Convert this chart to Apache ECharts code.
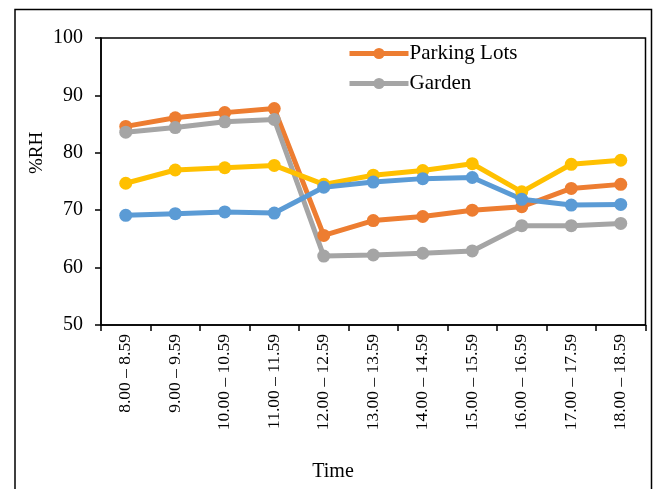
<!DOCTYPE html>
<html>
<head>
<meta charset="utf-8">
<script src="https://cdn.jsdelivr.net/npm/echarts@6/dist/echarts.min.js"></script>
<style>
html,body{margin:0;padding:0;background:#fff;}
#c{width:653px;height:489px;}
</style>
</head>
<body>
<div id="c"></div>
<script>
var categories = ["8.00 – 8.59","9.00 – 9.59","10.00 – 10.59","11.00 – 11.59","12.00 – 12.59","13.00 – 13.59","14.00 – 14.59","15.00 – 15.59","16.00 – 16.59","17.00 – 17.59","18.00 – 18.59"];
var parkingLots = [84.6, 86.1, 87.0, 87.7, 65.6, 68.2, 68.9, 70.0, 70.6, 73.8, 74.5];
var garden = [83.6, 84.4, 85.4, 85.8, 62.0, 62.2, 62.5, 62.9, 67.3, 67.3, 67.7];
var series3 = [74.7, 77.0, 77.4, 77.8, 74.5, 76.1, 76.9, 78.1, 73.2, 78.0, 78.7];
var series4 = [69.1, 69.4, 69.7, 69.5, 74.0, 74.9, 75.5, 75.7, 71.9, 70.9, 71.0];
var yTicks = [50, 60, 70, 80, 90, 100];
var xTitle = 'Time';
var yTitle = '%RH';

var font = "'Liberation Serif', 'Times New Roman', serif";
function mk(name, data, color) {
  return {
    name: name, type: 'line', data: data,
    symbol: 'circle', symbolSize: 13,
    lineStyle: { width: 5, color: color },
    itemStyle: { color: color },
    emphasis: { disabled: true },
    animation: false
  };
}
var chart = echarts.init(document.getElementById('c'));
chart.setOption({
  animation: false,
  textStyle: { fontFamily: font },
  graphic: [
    { type: 'rect', shape: { x: 15, y: 9.5, width: 636.5, height: 490 },
      style: { fill: 'none', stroke: '#000', lineWidth: 1.5 }, z: -1 },
    { type: 'text', x: 37, y: 153, rotation: Math.PI / 2,
      style: { text: yTitle, font: '19px ' + font, fill: '#000', align: 'center', verticalAlign: 'middle' } },
    { type: 'text', x: 333, y: 472,
      style: { text: xTitle, font: '20px ' + font, fill: '#000', align: 'center', verticalAlign: 'middle' } }
  ],
  grid: { left: 101, top: 38, width: 544.5, height: 287, show: true, borderColor: '#000', borderWidth: 1.5, backgroundColor: 'transparent' },
  legend: {
    data: ['Parking Lots', 'Garden'],
    orient: 'vertical', left: 347, top: 43, itemWidth: 59, itemHeight: 14, itemGap: 9, padding: 0,
    lineStyle: { width: 5 },
    textStyle: { fontFamily: font, fontSize: 21, color: '#000', padding: [0, 0, 0, -4] }
  },
  xAxis: {
    type: 'category', data: categories, boundaryGap: true,
    axisLine: { lineStyle: { color: '#000', width: 1.5 } },
    axisTick: { show: true, interval: 0, inside: false, length: 6, lineStyle: { color: '#000', width: 1.5 } },
    axisLabel: { interval: 0, rotate: 90, fontFamily: font, fontSize: 17.5, color: '#000', margin: 9 }
  },
  yAxis: {
    type: 'value', min: yTicks[0], max: yTicks[yTicks.length - 1], interval: 10,
    splitLine: { show: false },
    axisLine: { show: true, lineStyle: { color: '#000', width: 1.5 } },
    axisTick: { show: true, inside: false, length: 6, lineStyle: { color: '#000', width: 1.5 } },
    axisLabel: { fontFamily: font, fontSize: 20, color: '#000', margin: 18 }
  },
  series: [
    mk('Parking Lots', parkingLots, '#ED7D31'),
    mk('Garden', garden, '#A5A5A5'),
    mk('Series 3', series3, '#FFC000'),
    mk('Series 4', series4, '#5B9BD5')
  ]
});
</script>
</body>
</html>
